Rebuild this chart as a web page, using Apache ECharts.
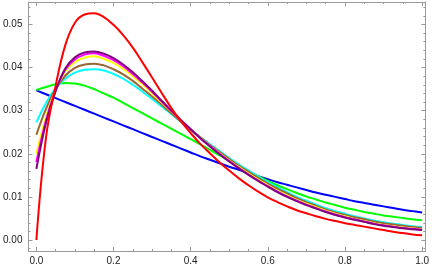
<!DOCTYPE html>
<html><head><meta charset="utf-8">
<script src="https://cdn.jsdelivr.net/npm/echarts@6/dist/echarts.min.js"></script>
<style>html,body{margin:0;padding:0;background:#fff}#c{width:432px;height:268px}</style>
</head><body><div id="c"></div>
<script>
// x sample positions: 0, 0.025, ..., 1.0 (41 points)
var xs = [0,0.025,0.05,0.075,0.1,0.125,0.15,0.175,0.2,0.225,0.25,0.275,0.3,0.325,0.35,0.375,0.4,0.425,0.45,0.475,0.5,0.525,0.55,0.575,0.6,0.625,0.65,0.675,0.7,0.725,0.75,0.775,0.8,0.825,0.85,0.875,0.9,0.925,0.95,0.975,1.0];
// series values
var blue    = [0.0347,0.0338,0.0329,0.0320,0.0311,0.0302,0.0293,0.0284,0.0275,0.0266,0.0257,0.0248,0.0239,0.0230,0.0221,0.0212,0.0203,0.0194,0.0186,0.0178,0.0170,0.0163,0.0155,0.0148,0.0141,0.0134,0.0128,0.0122,0.0116,0.0110,0.0105,0.0100,0.0095,0.0090,0.0086,0.0082,0.0078,0.0074,0.0070,0.0067,0.0064];
var green   = [0.0348,0.0355,0.0361,0.0364,0.0363,0.0358,0.0350,0.0340,0.0330,0.0318,0.0306,0.0294,0.0282,0.0270,0.0258,0.0246,0.0234,0.0222,0.0209,0.0196,0.0184,0.0172,0.0160,0.0148,0.0137,0.0127,0.0118,0.0109,0.0101,0.0094,0.0087,0.0081,0.0075,0.0070,0.0065,0.0061,0.0057,0.0054,0.0051,0.0048,0.0046];
var cyan    = [0.0273,0.0318,0.0352,0.0374,0.0388,0.0395,0.0396,0.0393,0.0385,0.0374,0.0360,0.0344,0.0327,0.0310,0.0292,0.0274,0.0256,0.0239,0.0222,0.0206,0.0190,0.0175,0.0161,0.0147,0.0134,0.0122,0.0111,0.0100,0.0091,0.0082,0.0074,0.0067,0.0061,0.0055,0.0050,0.0045,0.0041,0.0038,0.0035,0.0032,0.0030];
var brown   = [0.0244,0.0304,0.0350,0.0381,0.0399,0.0407,0.0409,0.0405,0.0396,0.0384,0.0369,0.0351,0.0333,0.0314,0.0294,0.0275,0.0256,0.0238,0.0220,0.0204,0.0188,0.0172,0.0158,0.0144,0.0131,0.0119,0.0108,0.0097,0.0088,0.0079,0.0071,0.0064,0.0058,0.0053,0.0048,0.0043,0.0039,0.0036,0.0033,0.0030,0.0028];
var yellow  = [0.0200,0.0286,0.0348,0.0391,0.0413,0.0423,0.0426,0.0420,0.0411,0.0397,0.0380,0.0361,0.0340,0.0319,0.0298,0.0277,0.0257,0.0237,0.0218,0.0201,0.0184,0.0169,0.0154,0.0140,0.0127,0.0114,0.0103,0.0093,0.0084,0.0076,0.0068,0.0061,0.0055,0.0049,0.0044,0.0039,0.0035,0.0032,0.0029,0.0027,0.0025];
var magenta = [0.0181,0.0278,0.0347,0.0395,0.0419,0.0430,0.0433,0.0427,0.0417,0.0403,0.0385,0.0365,0.0344,0.0321,0.0299,0.0277,0.0257,0.0236,0.0218,0.0200,0.0183,0.0167,0.0152,0.0138,0.0125,0.0112,0.0101,0.0091,0.0082,0.0074,0.0066,0.0059,0.0053,0.0048,0.0043,0.0038,0.0034,0.0031,0.0028,0.0026,0.0024];
var purple  = [0.0165,0.0272,0.0346,0.0398,0.0424,0.0435,0.0437,0.0432,0.0422,0.0407,0.0389,0.0368,0.0346,0.0323,0.0300,0.0278,0.0257,0.0236,0.0217,0.0199,0.0182,0.0166,0.0151,0.0137,0.0124,0.0111,0.0100,0.0090,0.0081,0.0073,0.0065,0.0058,0.0052,0.0047,0.0042,0.0037,0.0033,0.0030,0.0027,0.0025,0.0023];
var red     = [0.0000,0.0238,0.0358,0.0452,0.0504,0.0523,0.0526,0.0517,0.0499,0.0475,0.0446,0.0412,0.0377,0.0341,0.0306,0.0275,0.0248,0.0223,0.0201,0.0180,0.0161,0.0143,0.0127,0.0112,0.0099,0.0088,0.0078,0.0069,0.0062,0.0055,0.0049,0.0044,0.0039,0.0035,0.0031,0.0027,0.0023,0.0019,0.0016,0.0013,0.0011];
// tick labels
var xTicks = [0, 0.2, 0.4, 0.6, 0.8, 1.0];
var yTicks = [0, 0.01, 0.02, 0.03, 0.04, 0.05];
var xMinor = [0.05,0.1,0.15,0.25,0.3,0.35,0.45,0.5,0.55,0.65,0.7,0.75,0.85,0.9,0.95];
var yMinor = [-0.002,0.002,0.004,0.006,0.008,0.012,0.014,0.016,0.018,0.022,0.024,0.026,0.028,0.032,0.034,0.036,0.038,0.042,0.044,0.046,0.048,0.052,0.054];

var names = ['blue','green','cyan','brown','yellow','magenta','purple','red'];
var vals = [blue, green, cyan, brown, yellow, magenta, purple, red];
var colors = ['#0000ff','#00ff00','#00ffff','#996633','#ffff00','#ff00ff','#800080','#ff0000'];

var XMIN = -0.0205, XMAX = 1.0085, YMIN = -0.00255, YMAX = 0.0552;
var frame = {show:true, onZero:false, lineStyle:{color:'#9a9a9a', width:1}};
var noLine = {show:false, onZero:false};
var tickC = '#9a9a9a';
var FONT = 'Liberation Sans, Arial, sans-serif';

function xAx(pos, tv, len, labels, line){
  return {type:'value', position:pos, min:XMIN, max:XMAX, splitLine:{show:false},
    axisLine: line ? frame : noLine,
    axisTick:{show:true, inside:true, length:len, customValues:tv, lineStyle:{color:tickC}},
    axisLabel: labels ? {show:true, customValues:tv, color:'#222', fontSize:10, fontFamily:FONT, margin:5,
       formatter:function(v){return v.toFixed(1);}} : {show:false}};
}
function yAx(pos, tv, len, labels, line){
  return {type:'value', position:pos, min:YMIN, max:YMAX, splitLine:{show:false},
    axisLine: line ? frame : noLine,
    axisTick:{show:true, inside:true, length:len, customValues:tv, lineStyle:{color:tickC}},
    axisLabel: labels ? {show:true, customValues:tv, color:'#222', fontSize:10, fontFamily:FONT, margin:6,
       formatter:function(v){return v.toFixed(2);}} : {show:false}};
}

var series = names.map(function(n, i){
  return {name:n, type:'line', xAxisIndex:0, yAxisIndex:0, showSymbol:false, smooth:0.4,
    lineStyle:{color:colors[i], width:2}, itemStyle:{color:colors[i]},
    data: xs.map(function(x, j){ return [x, vals[i][j]]; })};
});

var chart = echarts.init(document.getElementById('c'), null, {renderer:'canvas'});
chart.setOption({
  animation:false,
  grid:{left:24, right:6, top:2, bottom:17, containLabel:false},
  xAxis:[xAx('bottom', xTicks, 4, true, true), xAx('bottom', xMinor, 2, false, false),
         xAx('top', xTicks, 4, false, true), xAx('top', xMinor, 2, false, false)],
  yAxis:[yAx('left', yTicks, 4, true, true), yAx('left', yMinor, 2, false, false),
         yAx('right', yTicks, 4, false, true), yAx('right', yMinor, 2, false, false)],
  series: series
});
</script></body></html>
